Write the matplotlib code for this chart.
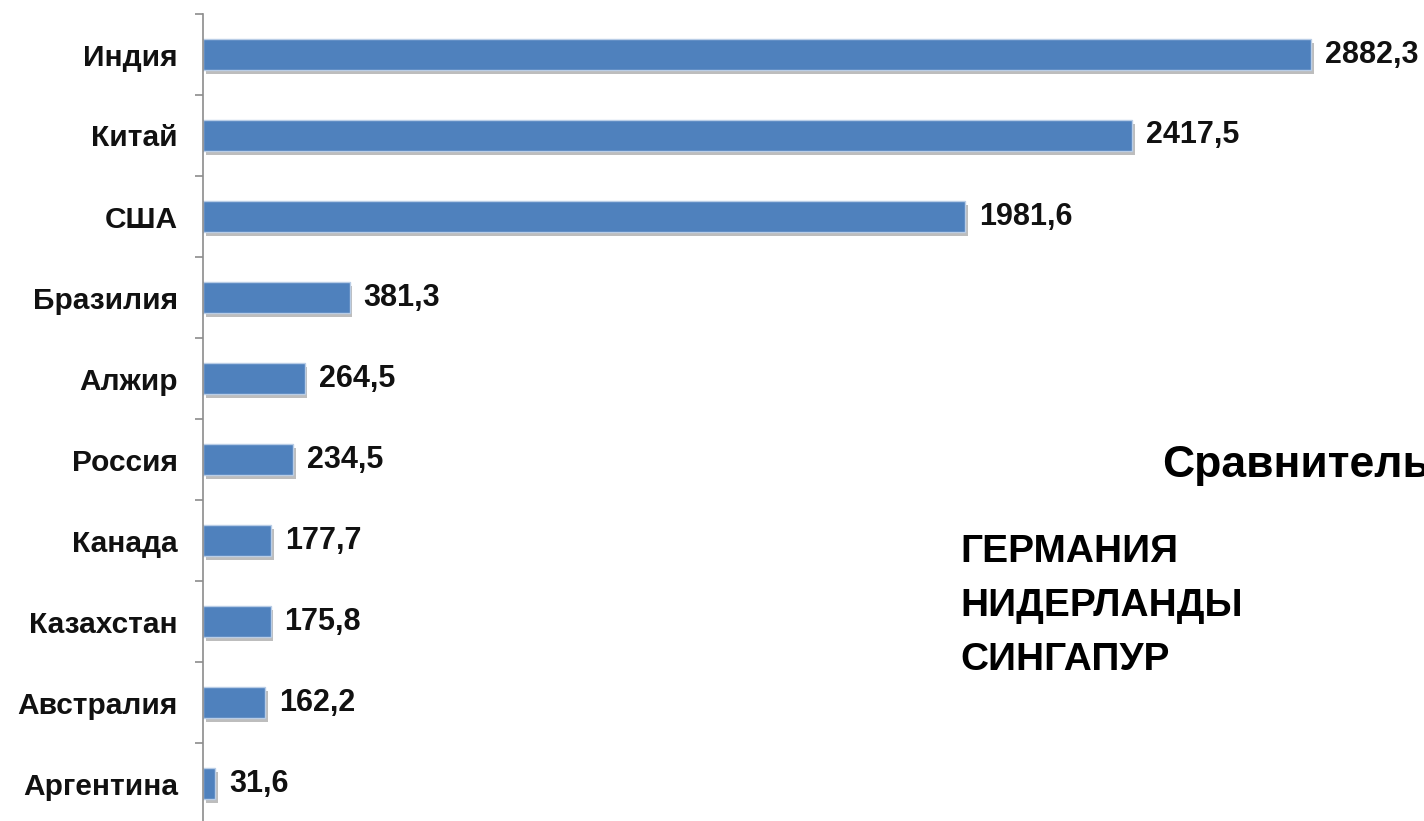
import matplotlib
matplotlib.use("Agg")
import matplotlib.pyplot as plt
import matplotlib.patheffects as pe
import numpy as np

plt.rcParams['font.family'] = ['Liberation Sans', 'DejaVu Sans']

# data, top to bottom as in the picture
countries = ["Индия", "Китай", "США", "Бразилия", "Алжир", "Россия",
             "Канада", "Казахстан", "Австралия", "Аргентина"]
values = [2882.3, 2417.5, 1981.6, 381.3, 264.5, 234.5, 177.7, 175.8, 162.2, 31.6]
value_labels = ["2882,3", "2417,5", "1981,6", "381,3", "264,5", "234,5",
                "177,7", "175,8", "162,2", "31,6"]
side_title = "Сравнительная"
side_list = ["ГЕРМАНИЯ", "НИДЕРЛАНДЫ", "СИНГАПУР"]

W, H = 1424, 821
fig = plt.figure(figsize=(W / 100, H / 100), dpi=100)
fig.patch.set_facecolor("white")

# axes: axis line at x=203, top at y=14, bottom just below image
ax = fig.add_axes([203 / W, -3 / H, 1 - 203 / W, 810 / H])
ax.patch.set_alpha(0)

y = np.arange(len(countries))
bars = ax.barh(y, values, height=0.38, color="#4f81bd",
               edgecolor="#b9cde6", linewidth=1.0)
for b in bars:
    b.set_path_effects([pe.withSimplePatchShadow(offset=(2, -3),
                                                 shadow_rgbFace="#888888",
                                                 alpha=0.55)])

for yi, v, lab in zip(y, values, value_labels):
    ax.annotate(lab, (v, yi), xytext=(10, 0), textcoords="offset points",
                va="center", ha="left", fontsize=22, fontweight="bold",
                color="#111111")

ax.set_xlim(0, 3176)
ax.set_ylim(len(countries) - 0.5, -0.5)

ax.set_yticks(y)
ax.set_yticklabels(countries, fontsize=21.5, fontweight="bold", color="#111111")
ax.tick_params(axis="y", which="major", length=0, pad=18)
ax.set_yticks(np.arange(-0.5, len(countries), 1), minor=True)
ax.tick_params(axis="y", which="minor", length=6, width=1.2, color="#8c8c8c",
               direction="out")
ax.set_xticks([])

for s in ["top", "right", "bottom"]:
    ax.spines[s].set_visible(False)
ax.spines["left"].set_color("#8c8c8c")
ax.spines["left"].set_linewidth(1.2)

# text on the right side (the title runs off the right edge as in the source)
fig.text(1162 / W, 1 - 465 / H, side_title, fontsize=32, fontweight="bold",
         va="center", ha="left", color="black")
for i, t in enumerate(side_list):
    fig.text(960 / W, 1 - (552 + 54 * i) / H, t, fontsize=28,
             fontweight="bold", va="center", ha="left", color="black")

fig.savefig("out.png", dpi=100)
